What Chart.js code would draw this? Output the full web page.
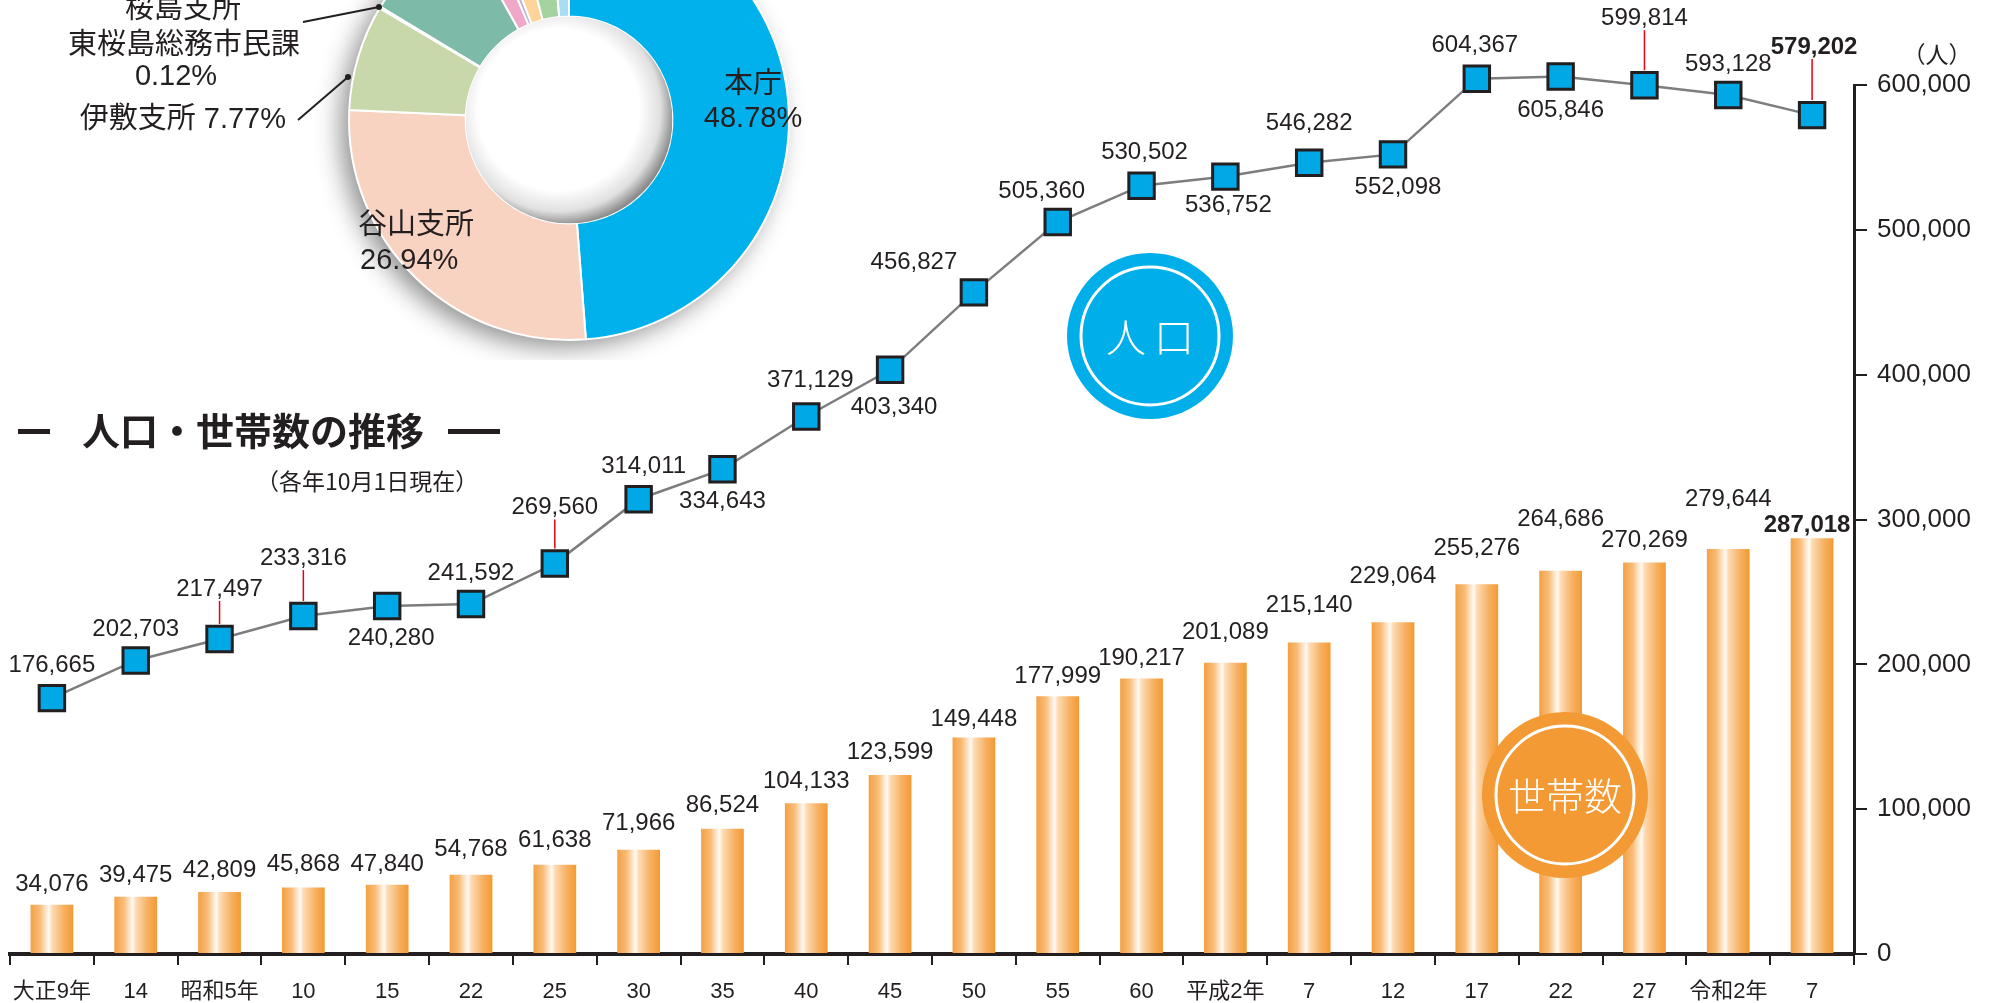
<!DOCTYPE html>
<html><head><meta charset="utf-8">
<script src="https://cdn.jsdelivr.net/npm/chart.js@4.4.1/dist/chart.umd.min.js"></script>
<style>
html,body{margin:0;padding:0;background:#fff;overflow:hidden;}
#wrap{position:relative;width:1998px;height:1003px;overflow:hidden;background:#fff;}
#main{position:absolute;left:0;top:0;}
#pie{position:absolute;left:0;top:-120px;}
</style></head><body>
<div id="wrap"><canvas id="main" width="1998" height="1003"></canvas><canvas id="pie" width="860" height="480"></canvas></div>
<script>
// ---------------- data ----------------
const categories = ['大正9年','14','昭和5年','10','15','22','25','30','35','40','45','50','55','60','平成2年','7','12','17','22','27','令和2年','7'];
const population = [176665,202703,217497,233316,240280,241592,269560,314011,334643,371129,403340,456827,505360,530502,536752,546282,552098,604367,605846,599814,593128,579202];
const households = [34076,39475,42809,45868,47840,54768,61638,71966,86524,104133,123599,149448,177999,190217,201089,215140,229064,255276,264686,270269,279644,287018];
const yTicks = [0,100000,200000,300000,400000,500000,600000];
const areaNames = ['本庁','谷山支所','伊敷支所','桜島支所東桜島総務市民課','吉野支所','吉田支所','桜島支所','喜入支所','松元支所','郡山支所'];
const areaShares = [48.78,26.94,7.77,0.12,8.30,1.70,0.50,1.80,2.60,1.49];

// ---------------- styles / label layout ----------------
const FF = '"Liberation Sans","Noto Sans CJK JP",sans-serif';
const JF = '"Noto Sans CJK JP","Liberation Sans",sans-serif';
const INK = '#231f20';
const pieColors = ['#00b1eb','#f9d3c2','#c9d8aa','#f6b89a','#7dbba8','#f0a8c8','#b7b1d9','#fdd49a','#a5d3a0','#a9dcf5'];
// u = above, d = below, r = above with red leader
const popLabelSide  = ['u','u','r','r','d','u','r','u','d','u','d','u','u','u','d','u','d','u','d','r','u','r'];
const popLabelGap   = [33,31,50,58,32,31,56,33,32,36,38,30,31,33,29,39,33,33,34,67,31,68];
const popLabelShift = [0,0,0,0,4,0,0,5,0,4,4,-60,-16,3,3,0,5,-2,0,0,0,2];
const hhLabelGap    = [20,21,22,23,20,25,24,26,23,22,23,18,20,20,30,37,46,36,51,22,50,13];
const hhLabelShift  = [0,0,0,0,0,0,0,0,0,0,0,0,0,0,0,0,0,0,0,0,0,-5];
const BAR_FRAC = 0.51;

function barGradient(ctx){
  const chart = ctx.chart; const xs = chart.scales && chart.scales.x;
  if (!xs || ctx.dataIndex === undefined || !xs.width) return '#f39a35';
  const cx = xs.getPixelForValue(ctx.dataIndex);
  const w = (xs.width / categories.length) * BAR_FRAC;
  const g = chart.ctx.createLinearGradient(cx - w/2, 0, cx + w/2, 0);
  g.addColorStop(0, '#f4a043');
  g.addColorStop(0.22, '#f8bc78');
  g.addColorStop(0.43, '#fffaf4');
  g.addColorStop(0.5, '#fddcb6');
  g.addColorStop(0.78, '#f7b061');
  g.addColorStop(1, '#f39a33');
  return g;
}

const valueLabels = {
  id:'valueLabels',
  afterDatasetsDraw(chart){
    const c = chart.ctx;
    c.save();
    c.textAlign = 'center'; c.textBaseline = 'middle'; c.fillStyle = INK;
    const mb = chart.getDatasetMeta(1);
    mb.data.forEach((el,i)=>{
      c.font = (i === households.length-1 ? 'bold ' : '') + '24px ' + FF;
      c.fillText(households[i].toLocaleString('en-US'), el.x + hhLabelShift[i], el.y - hhLabelGap[i]);
    });
    const ml = chart.getDatasetMeta(0);
    ml.data.forEach((el,i)=>{
      const side = popLabelSide[i];
      const ly = side === 'd' ? el.y + popLabelGap[i] : el.y - popLabelGap[i];
      const lx = el.x + popLabelShift[i];
      if (side === 'r'){
        c.strokeStyle = '#e60012'; c.lineWidth = 1.5;
        c.beginPath(); c.moveTo(el.x, ly + 12); c.lineTo(el.x, el.y - 15); c.stroke();
      }
      c.font = (i === population.length-1 ? 'bold ' : '') + '24px ' + FF;
      c.fillStyle = INK;
      c.fillText(population[i].toLocaleString('en-US'), lx, ly);
    });
    c.restore();
  }
};

function badge(c, x, y, color, chars, size, spacing){
  c.save();
  c.fillStyle = color;
  c.beginPath(); c.arc(x, y, 83, 0, Math.PI*2); c.fill();
  c.strokeStyle = '#ffffff'; c.lineWidth = 3;
  c.beginPath(); c.arc(x, y, 69, 0, Math.PI*2); c.stroke();
  c.fillStyle = '#ffffff'; c.textAlign = 'center'; c.textBaseline = 'middle';
  c.font = '300 ' + size + 'px ' + JF;
  const n = chars.length;
  chars.forEach((ch, k)=>{ c.fillText(ch, x + (k - (n-1)/2) * spacing, y + 1); });
  c.restore();
}

const decorations = {
  id:'decorations',
  afterDatasetsDraw(chart){
    const c = chart.ctx;
    badge(c, 1150, 336, '#00aee9', ['人','口'], 40, 48);
    badge(c, 1565, 795, '#f39a35', ['世','帯','数'], 38, 38);
  },
  afterDraw(chart){
    const c = chart.ctx;
    c.save();
    c.fillStyle = INK;
    c.fillRect(18, 429, 32, 5);
    c.fillRect(448, 429, 52, 5);
    c.textBaseline = 'middle'; c.textAlign = 'left';
    c.font = 'bold 38px ' + JF;
    c.fillText('人口・世帯数の推移', 82, 431);
    c.font = '23px ' + JF;
    c.fillText('（各年10月1日現在）', 256, 481);
    c.textAlign = 'center';
    c.font = '23px ' + JF;
    c.fillText('（人）', 1937, 54);
    c.restore();
  }
};

new Chart(document.getElementById('main'), {
  data: {
    labels: categories,
    datasets: [
      { type:'line', label:'人口', data: population, borderColor:'#7d7d7d', borderWidth:2.5,
        pointStyle:'rect', pointRadius:18, pointHoverRadius:18, pointBackgroundColor:'#00a8e6',
        pointBorderColor: INK, pointBorderWidth:3, clip:false, order:0, tension:0 },
      { type:'bar', label:'世帯数', data: households, backgroundColor: barGradient,
        barPercentage: BAR_FRAC, categoryPercentage: 1.0, order:1 }
    ]
  },
  options: {
    responsive:false, animation:false, devicePixelRatio:1,
    layout:{ autoPadding:false, padding:{ top:85, left:10, right:0, bottom:0 } },
    plugins:{ legend:{display:false}, tooltip:{enabled:false} },
    scales:{
      x:{ position:'bottom', offset:true,
          grid:{ display:true, drawOnChartArea:false, drawTicks:true, tickLength:11, lineWidth:2, color:INK, offset:true },
          border:{ display:true, color:INK, width:4 },
          ticks:{ color:INK, font:{ family:FF, size:22 }, padding:14, maxRotation:0, minRotation:0, autoSkip:false },
          afterFit(s){ s.height = 49; s.paddingLeft = 0; s.paddingRight = 0; } },
      y:{ position:'right', min:0, max:600000,
          afterBuildTicks(s){ s.ticks = yTicks.map(v=>({value:v})); },
          ticks:{ color:INK, font:{ family:FF, size:26 }, padding:10, callback:v=>Number(v).toLocaleString('en-US') },
          grid:{ display:true, drawOnChartArea:false, drawTicks:true, tickLength:13, lineWidth:2, color:INK },
          border:{ display:true, color:INK, width:3 },
          afterFit(s){ s.width = 144; s.paddingTop = 0; s.paddingBottom = 0; } }
    }
  },
  plugins:[decorations, valueLabels]
});

// ---------------- doughnut ----------------
const pieShadow = {
  id:'pieShadow',
  beforeDatasetsDraw(chart){
    const el = chart.getDatasetMeta(0).data[0]; if(!el) return;
    const c = chart.ctx;
    c.save();
    c.shadowColor = 'rgba(0,0,0,0.45)'; c.shadowBlur = 26; c.shadowOffsetX = -9; c.shadowOffsetY = 8;
    c.fillStyle = '#ffffff';
    c.beginPath(); c.arc(el.x, el.y, el.outerRadius - 1, 0, Math.PI*2); c.fill();
    c.restore();
  },
  afterDatasetsDraw(chart){
    const el = chart.getDatasetMeta(0).data[0]; if(!el) return;
    const c = chart.ctx; const r = el.innerRadius;
    c.save();
    c.beginPath(); c.arc(el.x, el.y, r, 0, Math.PI*2); c.clip();
    c.fillStyle = '#ffffff'; c.fill();
    const g = c.createRadialGradient(el.x - r*0.1, el.y - r*0.1, r*0.78, el.x - r*0.1, el.y - r*0.1, r*1.12);
    g.addColorStop(0, 'rgba(0,0,0,0)');
    g.addColorStop(0.6, 'rgba(0,0,0,0.12)');
    g.addColorStop(1, 'rgba(0,0,0,0.45)');
    c.fillStyle = g;
    c.fillRect(el.x - r, el.y - r, 2*r, 2*r);
    c.restore();
  }
};

const pieLabels = {
  id:'pieLabels',
  afterDraw(chart){
    const c = chart.ctx; const oy = 120;
    const pct = i => areaShares[i].toFixed(2) + '%';
    c.save();
    c.fillStyle = INK; c.textBaseline = 'middle';
    c.font = '29px ' + FF;
    c.textAlign = 'center';
    c.fillText(areaNames[0], 753, 85 + oy);
    c.fillText(pct(0), 753, 119 + oy);
    c.textAlign = 'left';
    c.fillText(areaNames[1], 358, 226 + oy);
    c.fillText(pct(1), 360, 261 + oy);
    c.textAlign = 'right';
    c.fillText(areaNames[2] + ' ' + pct(2), 286, 120 + oy);
    c.textAlign = 'center';
    c.fillText('桜島支所', 183, 10 + oy);
    c.fillText('東桜島総務市民課', 184, 46 + oy);
    c.fillText(pct(3), 176, 77 + oy);
    c.strokeStyle = INK; c.lineWidth = 2;
    c.beginPath(); c.moveTo(298, 120 + oy); c.lineTo(348, 77 + oy); c.stroke();
    c.beginPath(); c.arc(348, 77 + oy, 3, 0, Math.PI*2); c.fill();
    c.beginPath(); c.moveTo(303, 22 + oy); c.lineTo(379, 7 + oy); c.stroke();
    c.beginPath(); c.arc(379, 7 + oy, 3, 0, Math.PI*2); c.fill();
    c.restore();
  }
};

new Chart(document.getElementById('pie'), {
  type:'doughnut',
  data:{ labels: areaNames, datasets:[{ data: areaShares, backgroundColor: pieColors, borderColor:'#ffffff', borderWidth:2, hoverOffset:0 }] },
  options:{ responsive:false, animation:false, devicePixelRatio:1, cutout:'47%',
    layout:{ padding:{ left:348, right:70, top:19, bottom:19 } },
    plugins:{ legend:{display:false}, tooltip:{enabled:false} } },
  plugins:[pieShadow, pieLabels]
});
</script>
</body></html>
